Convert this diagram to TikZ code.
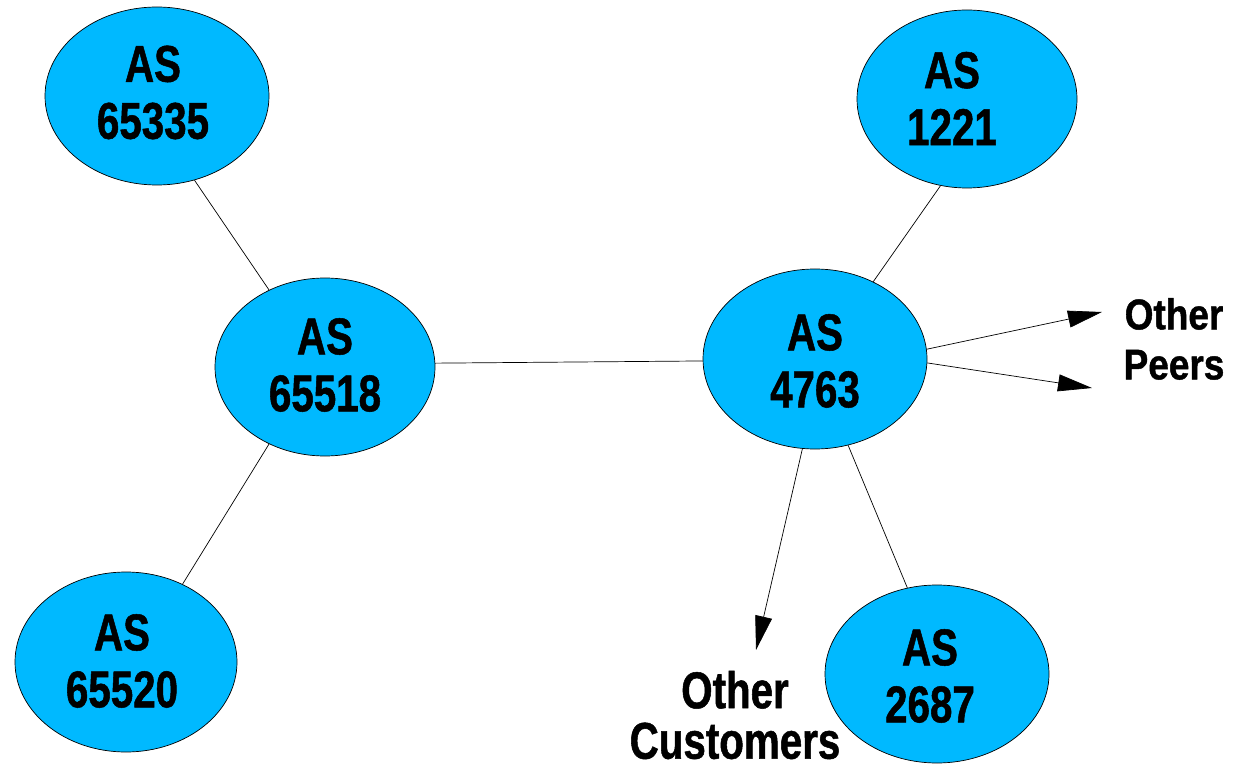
\documentclass[tikz,border=0pt]{standalone}
\usepackage{fontspec}
\newfontfamily\narA[FakeStretch=0.78,FakeBold=1]{Liberation Sans}
\newfontfamily\narB[FakeStretch=0.86,FakeBold=1]{Liberation Sans}
\usetikzlibrary{shapes.geometric,arrows.meta}
\definecolor{asblue}{RGB}{0,185,255}
\begin{document}
\begin{tikzpicture}[x=1pt,y=-1pt,
  asnode/.style={ellipse,draw=black,fill=asblue,line width=0.7pt,inner sep=0pt},
  astext/.style={align=center,inner sep=0pt,font=\narA\bfseries\fontsize{51.7}{57}\selectfont},
  cust/.style={align=center,inner sep=0pt,font=\narA\bfseries\fontsize{51.7}{50.5}\selectfont},
  peer/.style={align=center,inner sep=0pt,font=\narB\bfseries\fontsize{43}{50}\selectfont},
  link/.style={draw=black,line width=0.7pt},
  arr/.style={link,-{Triangle[length=34pt,width=17pt]}}]
\useasboundingbox (0,0) rectangle (1237,767);
% ellipses
\node[asnode,minimum width=224pt,minimum height=178pt] (A) at (157,96) {};
\node[asnode,minimum width=220pt,minimum height=178pt] (B) at (325,367) {};
\node[asnode,minimum width=222pt,minimum height=180pt] (C) at (126,662) {};
\node[asnode,minimum width=224pt,minimum height=180pt] (D) at (815,359) {};
\node[asnode,minimum width=220pt,minimum height=178pt] (E) at (967,99) {};
\node[asnode,minimum width=224pt,minimum height=178pt] (F) at (937,674) {};
% texts
\node[astext] (At) at (153,92.5) {AS\\65335};
\node[astext] (Bt) at (325,365) {AS\\65518};
\node[astext] (Ct) at (122,661) {AS\\65520};
\node[astext] (Dt) at (815,361) {AS\\4763};
\node[astext] (Et) at (952,98.5) {AS\\1221};
\node[astext] (Ft) at (930,676) {AS\\2687};
\node[cust] (cust) at (735,715) {Other\\Customers};
\node[peer] (peer) at (1174,339) {Other\\Peers};
% arrow tips
\coordinate (custtip) at (756,650);
\coordinate (peertipA) at (1102,312);
\coordinate (peertipB) at (1092,388);
% links
\draw[link] (A.-66.2) -- (B.126.9);
\draw[link] (B.-126.2) -- (C.54.7);
\draw[link] (B.2.6) -- (D.181.5);
\draw[link] (D.53) -- (E.-107.4);
\draw[link] (D.-69.7) -- (F.109.7);
\draw[arr] (D.-98.2) -- (custtip);
\draw[arr] (D.5.1) -- (peertipA);
\draw[arr] (D.-2) -- (peertipB);
\end{tikzpicture}
\end{document}
